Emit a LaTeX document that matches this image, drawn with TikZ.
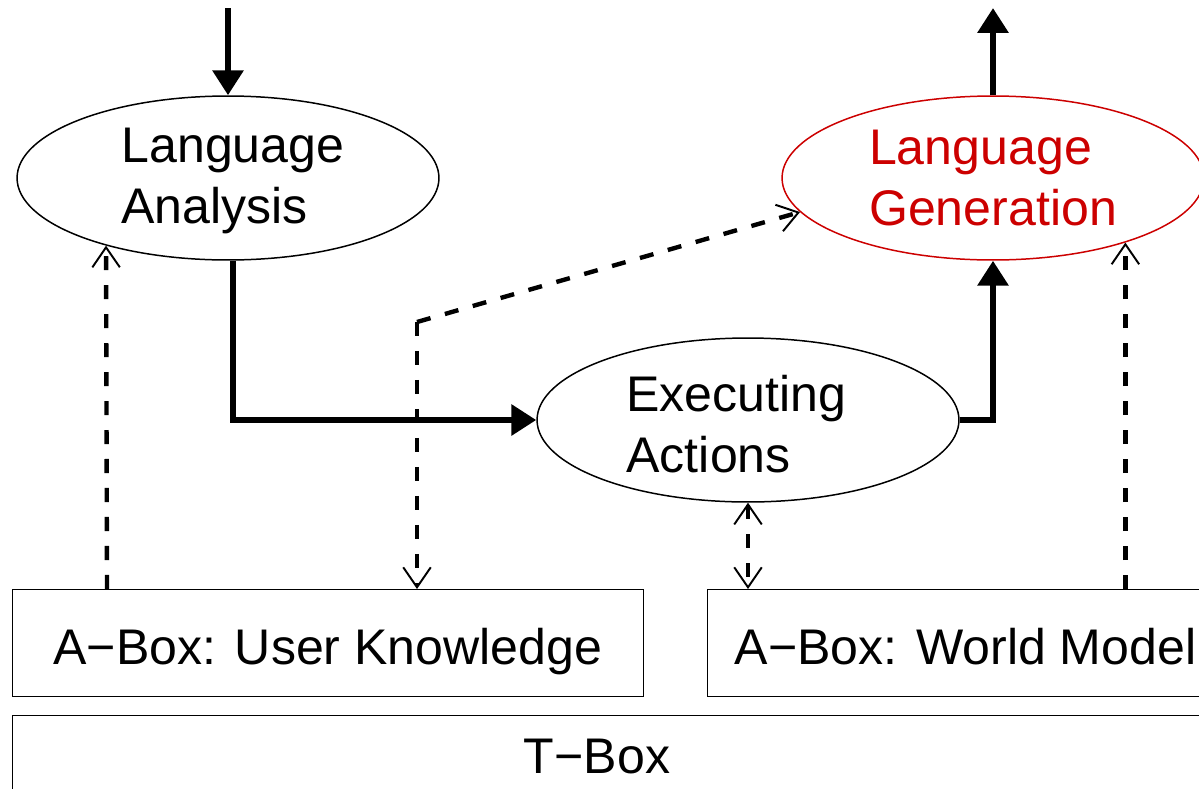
\documentclass[tikz,border=0pt]{standalone}
\usepackage{fontspec}
\setmainfont{Liberation Sans}
\usetikzlibrary{shapes.geometric,arrows.meta,calc}
\definecolor{genred}{RGB}{204,0,0}
\begin{document}
\begin{tikzpicture}[x=0.02cm,y=-0.02cm,
  every node/.style={font=\fontsize{28.5}{35}\selectfont},
  ell/.style={ellipse,draw,line width=0.85pt,minimum width=8.44cm,minimum height=3.28cm,inner sep=0pt,align=left},
  abox/.style={rectangle,draw,line width=0.6pt,inner sep=0pt,text height=0.86cm,text depth=0pt},
  mainflow/.style={line width=3.6pt,-{Triangle[length=0.5cm,width=0.6cm]}},
  dashline/.style={line width=2.5pt,dash pattern=on 8pt off 8.5pt},
  dashflow/.style={dashline,-{Straight Barb[length=0.4cm,width=0.55cm,line width=1.1pt]}},
  dashboth/.style={dashline,{Straight Barb[length=0.4cm,width=0.55cm,line width=1.1pt]}-{Straight Barb[length=0.4cm,width=0.55cm,line width=1.1pt]}}
]
\useasboundingbox (0,0) rectangle (1199,788);
\clip (0,0) rectangle (1199,788);
% nodes
\node[ell] (la) at (228,178) {\hspace*{0.24cm}\raisebox{-0.06cm}[\height][\depth]{\parbox{4.5cm}{Language\\Analysis}}};
\node[ell,draw=genred,text=genred] (lg) at (993,178) {Language\\Generation};
\node[ell] (ea) at (748,420) {\raisebox{-0.08cm}[\height][\depth]{\parbox{4.4cm}{Executing\\Actions}}\hspace*{0.46cm}};
\node[abox,minimum width=12.62cm,minimum height=2.14cm,anchor=north west] (ua) at (12,589) {A−Box: User Knowledge};
\node[abox,minimum width=10.32cm,minimum height=2.14cm,anchor=north west] (wm) at (707,589) {A−Box: World Model};
\node[abox,minimum width=24.6cm,minimum height=2.0cm,anchor=north west] (tb) at (12,715) {};
\node (tbt) at (597,757) {T−Box};
\coordinate (top1) at (228,8);
\coordinate (top2) at (993,8);
\coordinate (j) at (417,322);
% main flow
\draw[mainflow] (top1) -- (la.north);
\draw[mainflow] (lg.north) -- (top2);
\draw[mainflow] ($(la.south)+(5,0)$) |- (ea.west);
\draw[mainflow] (ea.east) -| (lg.south);
% dashed
\draw[dashflow] ($(ua.north west)+(95,0)$) -- (la.-151);
\draw[dashflow] (j) -- (j |- ua.north);
\draw[dashflow] (j) -- (lg.-170);
\draw[dashboth] (ea.south) -- (ea.south |- wm.north);
\draw[dashflow] (lg.-26 |- wm.north) -- (lg.-26);
\end{tikzpicture}
\end{document}
